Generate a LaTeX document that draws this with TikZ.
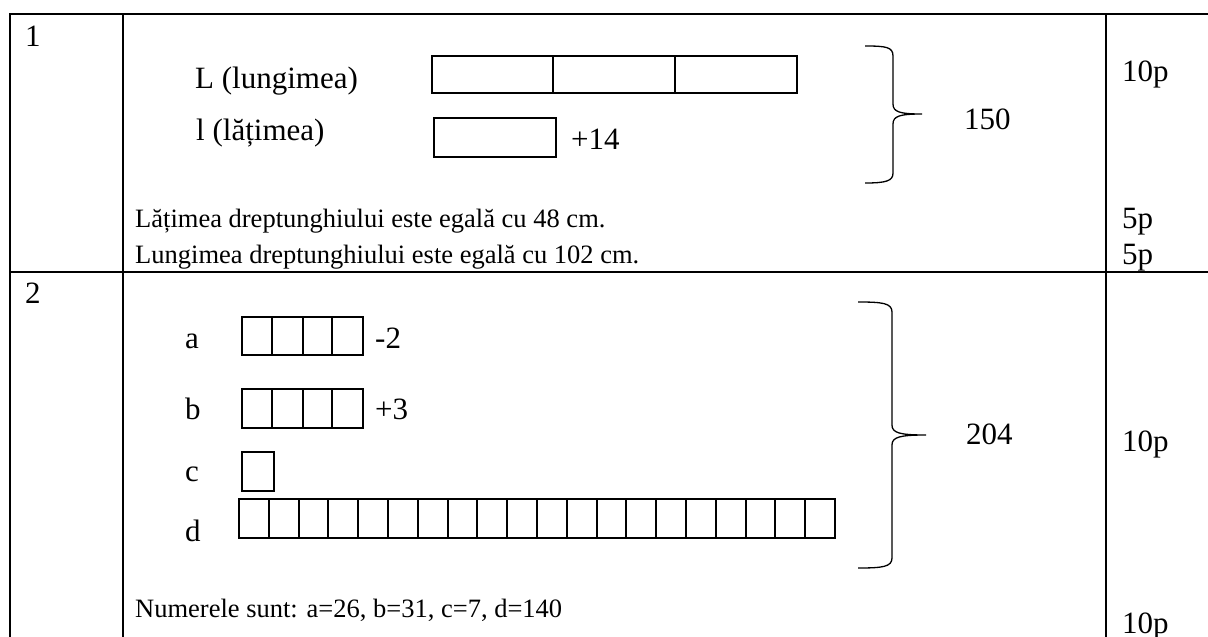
\documentclass[tikz,border=0pt]{standalone}
\usepackage{fontspec}
\setmainfont{Liberation Serif}
\begin{document}
\begin{tikzpicture}[x=1pt,y=-1pt,
  tbl/.style={line width=2.6pt},
  cell/.style={line width=2pt},
  brace/.style={line width=1.3pt},
  body/.style={anchor=base west,inner sep=0pt,font=\fontsize{26.5}{32}\selectfont},
  lbl/.style={anchor=base west,inner sep=0pt,font=\fontsize{31}{36}\selectfont}]
\useasboundingbox (0,0) rectangle (1208,637);
% table grid
\draw[tbl] (10,637) -- (10,14) -- (1208,14);
\draw[tbl] (123,14) -- (123,637);
\draw[tbl] (1106,14) -- (1106,637);
\draw[tbl] (10,272) -- (1208,272);
% row 1
\node[lbl] (n1) at (25,46) {1};
\node[lbl] (Llab) at (195,88) {L (lungimea)};
\node[lbl] (llab) at (196,140) {l (lățimea)};
\draw[cell] (432,56) rectangle (797,93);
\draw[cell] (553,56) -- (553,93) (675,56) -- (675,93);
\draw[cell] (434,118) rectangle (556,157);
\node[lbl] (p14) at (571,149) {+14};
\draw[brace] (865,46) .. controls (886,46) and (893,47) .. (893,56) -- (893,104)
  .. controls (893,112) and (900,114) .. (922,114)
  .. controls (900,114) and (893,116) .. (893,124) -- (893,173)
  .. controls (893,181) and (886,183) .. (865,183);
\node[lbl] (s150) at (964,129) {150};
\node[lbl] (p10a) at (1122,81) {10p};
\node[body] (t1) at (135,227) {Lățimea dreptunghiului este egală cu 48 cm.};
\node[body] (t2) at (135,263) {Lungimea dreptunghiului este egală cu 102 cm.};
\node[lbl] (p5a) at (1122,228) {5p};
\node[lbl] (p5b) at (1122,264) {5p};
% row 2
\node[lbl] (n2) at (25,303) {2};
\node[lbl] (a) at (185,348) {a};
\node[lbl] (b) at (185,419) {b};
\node[lbl] (c) at (185,481) {c};
\node[lbl] (d) at (185,541) {d};
\draw[cell] (242,317) rectangle (363,355);
\draw[cell] (272,317) -- (272,355) (303,317) -- (303,355) (332,317) -- (332,355);
\node[lbl] (m2) at (375,348) {-2};
\draw[cell] (242,389) rectangle (363,428);
\draw[cell] (272,389) -- (272,428) (303,389) -- (303,428) (332,389) -- (332,428);
\node[lbl] (p3) at (375,419) {+3};
\draw[cell] (242,452) rectangle (274,491);
\draw[cell] (239,499) rectangle (835,538);
\foreach \i in {1,...,19} {\draw[cell] (239+\i*29.8,499) -- (239+\i*29.8,538);}
\draw[brace] (858,302) .. controls (882,302) and (892,303) .. (892,312) -- (892,425)
  .. controls (892,433) and (900,435) .. (926,435)
  .. controls (900,435) and (892,437) .. (892,445) -- (892,558)
  .. controls (892,567) and (882,568) .. (858,568);
\node[lbl] (s204) at (966,444) {204};
\node[lbl] (p10b) at (1122,451) {10p};
\node[body] (t3) at (135,617) {Numerele sunt: a=26, b=31, c=7, d=140};
\node[lbl] (p10c) at (1122,633) {10p};
\end{tikzpicture}
\end{document}
